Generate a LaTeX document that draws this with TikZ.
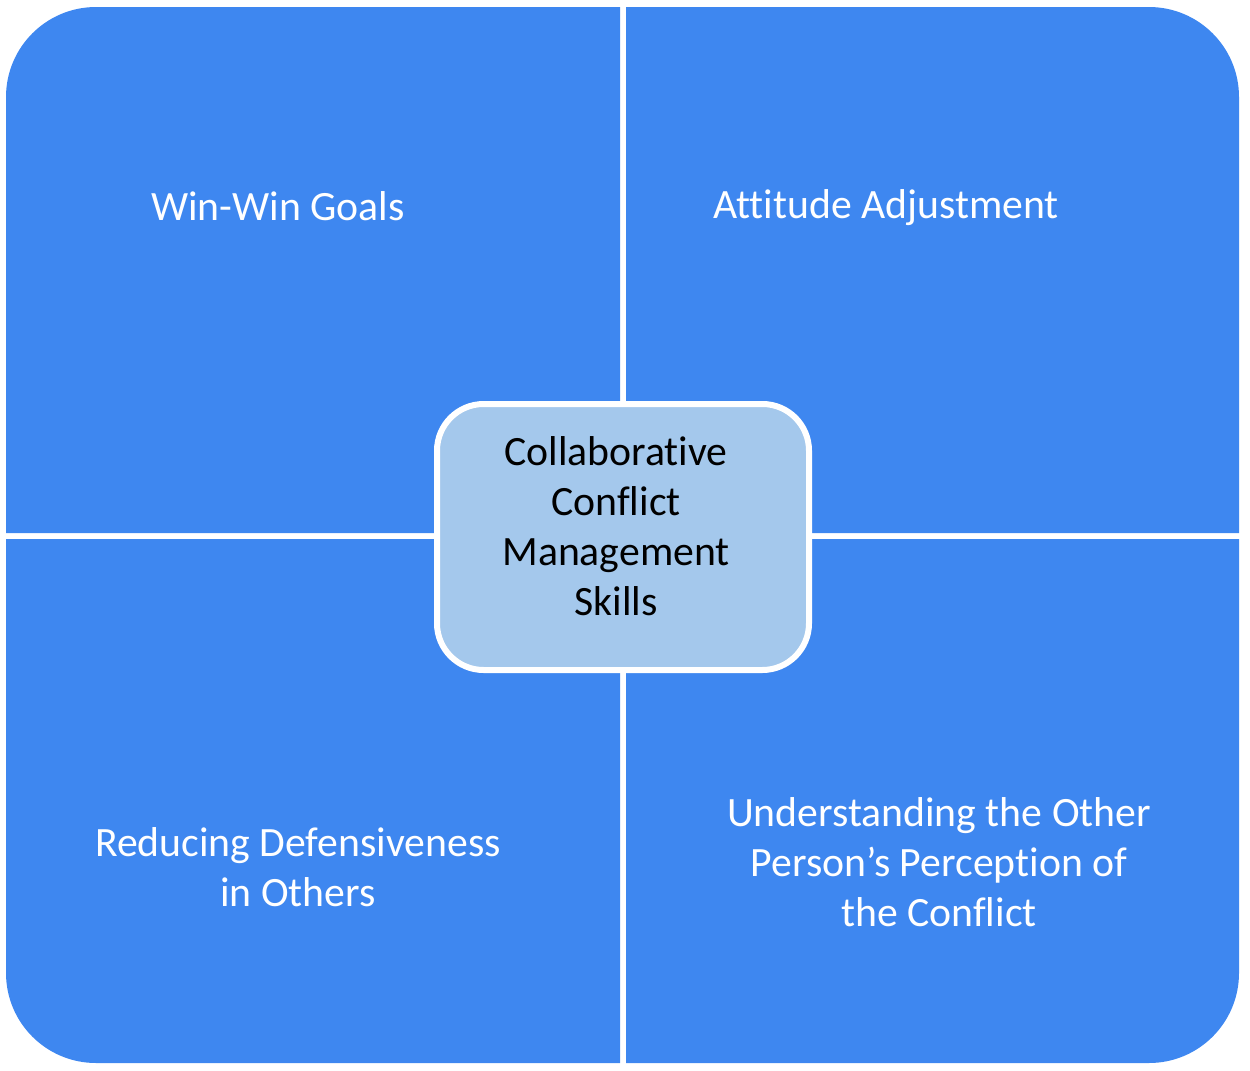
\documentclass[tikz,border=0pt]{standalone}
\usepackage{fontspec}
\setmainfont{Carlito}[Ligatures=CommonOff]
\definecolor{quadblue}{RGB}{62,135,240}
\definecolor{centerblue}{RGB}{164,200,236}
\tikzset{
  quad/.style={fill=quadblue},
  quadtext/.style={text=white, align=center, font=\fontsize{31.3}{37.5}\selectfont},
  centerbox/.style={draw=white, line width=4.5pt, fill=centerblue, rounded corners=35pt,
    minimum width=279pt, minimum height=199.5pt, inner sep=0pt},
  centertext/.style={text=black, align=center, font=\fontsize{31.3}{37.5}\selectfont}
}
\begin{document}
\begin{tikzpicture}[x=0.75pt, y=-0.75pt]
\useasboundingbox (0,0) rectangle (1250,1071);
% quadrants
\fill[quad] (620,533) -- (6,533) [rounded corners=67.5pt] -- (6,7) [sharp corners] -- (620,7) -- cycle;
\fill[quad] (626,533) -- (626,7) [rounded corners=67.5pt] -- (1239,7) [sharp corners] -- (1239,533) -- cycle;
\fill[quad] (620,539) -- (6,539) [rounded corners=67.5pt] -- (6,1063) [sharp corners] -- (620,1063) -- cycle;
\fill[quad] (626,539) -- (1239,539) [rounded corners=67.5pt] -- (1239,1063) [sharp corners] -- (626,1063) -- cycle;
% texts
\node[quadtext] (tl) at (278,206) {Win-Win Goals};
\node[quadtext] (tr) at (886,208) {Attitude Adjustment};
\node[quadtext] (bl) at (298,867) {Reducing Defensiveness\\in Others};
\node[quadtext] (br) at (939,862) {Understanding the Other\\Person’s Perception of\\the Conflict};
% center
\node[centerbox] (center) at (623,537) {};
\node[centertext] (ctext) at (616,526) {Collaborative\\Conflict\\Management\\Skills};
\end{tikzpicture}
\end{document}
